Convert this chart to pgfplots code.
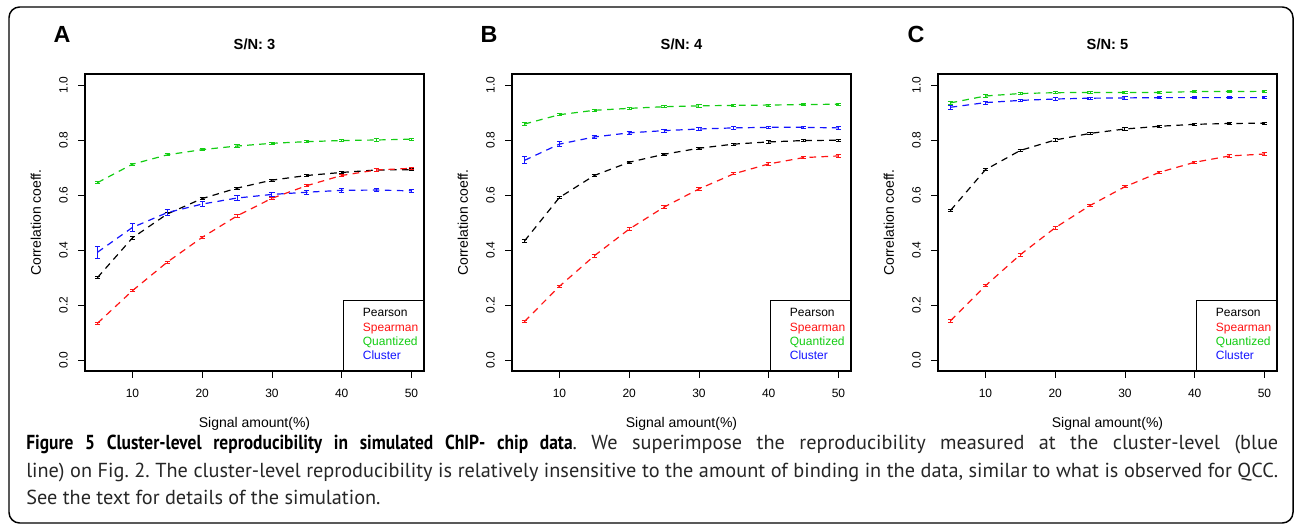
\documentclass[border=0pt]{standalone}
\usepackage{fontspec}
\setmainfont{Liberation Sans}
\newfontfamily\capfont[BoldFeatures={FakeStretch=0.86}]{PT Sans}
\usepackage{pgfplots}
\pgfplotsset{compat=1.18}

\definecolor{rred}{RGB}{255,20,20}
\definecolor{rgreen}{RGB}{20,205,20}
\definecolor{rblue}{RGB}{20,20,255}

\pgfplotsset{
  rpanel/.style={
    scale only axis, width=254.25pt, height=222.75pt,
    anchor=south west,
    xmin=3.2, xmax=51.8, ymin=-0.04, ymax=1.04,
    axis line style={line width=0.9pt},
    tick align=outside, xtick pos=left, ytick pos=left,
    major tick length=5pt, tick style={line width=0.6pt, black},
    xtick={10,20,30,40,50}, xticklabels={10,20,30,40,50},
    ytick={0,0.2,0.4,0.6,0.8,1.0}, yticklabels={0.0,0.2,0.4,0.6,0.8,1.0},
    ticklabel style={font=\fontsize{9}{10}\selectfont},
    yticklabel style={rotate=90, anchor=south},
    xticklabel shift=5pt, yticklabel shift=4.5pt,
    xlabel={Signal amount(\%)}, ylabel={Correlation coeff.},
    label style={font=\fontsize{10.5}{12}\selectfont},
    xlabel style={at={(axis description cs:0.5,-0.1886)}, anchor=base},
    ylabel style={at={(axis description cs:-0.13,0.5)}, anchor=base},
    every axis title/.style={at={(axis description cs:0.5,1.0808)}, anchor=base,
      font=\bfseries\fontsize{11}{12}\selectfont},
    legend style={at={(axis description cs:1,0)}, anchor=south east,
      draw=black, line width=0.6pt, font=\fontsize{9}{10.5}\selectfont,
      inner xsep=2pt, inner ysep=4.5pt, row sep=-1.2pt},
    legend cell align=left,
    legend image code/.code={\path[draw=none] (0pt,0pt) -- (11pt,0pt);},
    every axis plot/.append style={line width=0.9pt, dash pattern=on 5pt off 4pt, mark=none},
    error bars/error bar style={solid, line width=0.7pt},
    error bars/error mark options={rotate=90, mark size=2pt, line width=0.7pt, solid},
  },
  eb/.style={error bars/.cd, y dir=both, y explicit},
}

\begin{document}
\begin{tikzpicture}
\path (0pt,0pt) rectangle (971.25pt,393pt);
\draw[line width=1.1pt, rounded corners=8pt] (6.75pt,0.75pt) rectangle (969.75pt,387.75pt);

% panel A
\begin{axis}[rpanel, at={(63.75pt,114.75pt)}, title={S/N: 3}]
\addplot[black, eb] coordinates {
(5,0.300) +- (0,0.004) (10,0.444) +- (0,0.004) (15,0.531) +- (0,0.005) (20,0.587) +- (0,0.004)
(25,0.625) +- (0,0.004) (30,0.654) +- (0,0.004) (35,0.671) +- (0,0.004) (40,0.682) +- (0,0.004)
(45,0.691) +- (0,0.004) (50,0.692) +- (0,0.004)};
\addplot[rred, eb] coordinates {
(5,0.134) +- (0,0.004) (10,0.252) +- (0,0.004) (15,0.356) +- (0,0.004) (20,0.446) +- (0,0.004)
(25,0.524) +- (0,0.004) (30,0.588) +- (0,0.004) (35,0.634) +- (0,0.004) (40,0.671) +- (0,0.004)
(45,0.691) +- (0,0.004) (50,0.697) +- (0,0.004)};
\addplot[rgreen, eb] coordinates {
(5,0.645) +- (0,0.004) (10,0.712) +- (0,0.004) (15,0.746) +- (0,0.004) (20,0.765) +- (0,0.004)
(25,0.778) +- (0,0.004) (30,0.788) +- (0,0.004) (35,0.794) +- (0,0.004) (40,0.798) +- (0,0.004)
(45,0.800) +- (0,0.004) (50,0.803) +- (0,0.004)};
\addplot[rblue, eb] coordinates {
(5,0.392) +- (0,0.022) (10,0.482) +- (0,0.015) (15,0.536) +- (0,0.010) (20,0.567) +- (0,0.010)
(25,0.589) +- (0,0.009) (30,0.602) +- (0,0.008) (35,0.610) +- (0,0.008) (40,0.617) +- (0,0.006)
(45,0.618) +- (0,0.006) (50,0.615) +- (0,0.006)};
\legend{Pearson, \textcolor{rred}{Spearman}, \textcolor{rgreen}{Quantized}, \textcolor{rblue}{Cluster}}
\end{axis}

% panel B
\begin{axis}[rpanel, at={(384pt,114.75pt)}, title={S/N: 4}]
\addplot[black, eb] coordinates {
(5,0.433) +- (0,0.004) (10,0.591) +- (0,0.004) (15,0.671) +- (0,0.004) (20,0.719) +- (0,0.004)
(25,0.748) +- (0,0.004) (30,0.770) +- (0,0.004) (35,0.785) +- (0,0.004) (40,0.793) +- (0,0.004)
(45,0.798) +- (0,0.004) (50,0.799) +- (0,0.004)};
\addplot[rred, eb] coordinates {
(5,0.140) +- (0,0.005) (10,0.268) +- (0,0.004) (15,0.379) +- (0,0.005) (20,0.476) +- (0,0.005)
(25,0.556) +- (0,0.005) (30,0.622) +- (0,0.004) (35,0.677) +- (0,0.004) (40,0.713) +- (0,0.004)
(45,0.736) +- (0,0.004) (50,0.742) +- (0,0.004)};
\addplot[rgreen, eb] coordinates {
(5,0.858) +- (0,0.004) (10,0.892) +- (0,0.004) (15,0.908) +- (0,0.004) (20,0.915) +- (0,0.004)
(25,0.921) +- (0,0.004) (30,0.924) +- (0,0.004) (35,0.926) +- (0,0.004) (40,0.927) +- (0,0.004)
(45,0.929) +- (0,0.004) (50,0.930) +- (0,0.004)};
\addplot[rblue, eb] coordinates {
(5,0.726) +- (0,0.013) (10,0.785) +- (0,0.008) (15,0.811) +- (0,0.007) (20,0.826) +- (0,0.006)
(25,0.834) +- (0,0.005) (30,0.840) +- (0,0.005) (35,0.844) +- (0,0.005) (40,0.846) +- (0,0.005)
(45,0.846) +- (0,0.005) (50,0.844) +- (0,0.005)};
\legend{Pearson, \textcolor{rred}{Spearman}, \textcolor{rgreen}{Quantized}, \textcolor{rblue}{Cluster}}
\end{axis}

% panel C
\begin{axis}[rpanel, at={(703.5pt,114.75pt)}, title={S/N: 5}]
\addplot[black, eb] coordinates {
(5,0.544) +- (0,0.004) (10,0.692) +- (0,0.004) (15,0.762) +- (0,0.004) (20,0.800) +- (0,0.004)
(25,0.824) +- (0,0.004) (30,0.840) +- (0,0.004) (35,0.850) +- (0,0.004) (40,0.857) +- (0,0.004)
(45,0.860) +- (0,0.004) (50,0.861) +- (0,0.004)};
\addplot[rred, eb] coordinates {
(5,0.143) +- (0,0.005) (10,0.270) +- (0,0.004) (15,0.383) +- (0,0.005) (20,0.481) +- (0,0.005)
(25,0.562) +- (0,0.004) (30,0.630) +- (0,0.004) (35,0.683) +- (0,0.004) (40,0.719) +- (0,0.004)
(45,0.742) +- (0,0.004) (50,0.749) +- (0,0.004)};
\addplot[rgreen, eb] coordinates {
(5,0.935) +- (0,0.004) (10,0.960) +- (0,0.004) (15,0.969) +- (0,0.004) (20,0.972) +- (0,0.004)
(25,0.973) +- (0,0.004) (30,0.973) +- (0,0.004) (35,0.973) +- (0,0.004) (40,0.976) +- (0,0.004)
(45,0.976) +- (0,0.004) (50,0.977) +- (0,0.004)};
\addplot[rblue, eb] coordinates {
(5,0.919) +- (0,0.008) (10,0.936) +- (0,0.005) (15,0.944) +- (0,0.004) (20,0.949) +- (0,0.004)
(25,0.952) +- (0,0.004) (30,0.953) +- (0,0.004) (35,0.954) +- (0,0.004) (40,0.954) +- (0,0.004)
(45,0.954) +- (0,0.004) (50,0.954) +- (0,0.004)};
\legend{Pearson, \textcolor{rred}{Spearman}, \textcolor{rgreen}{Quantized}, \textcolor{rblue}{Cluster}}
\end{axis}

% panel letters
\node[anchor=base, font=\bfseries\fontsize{17.5}{18}\selectfont, inner sep=0pt] at (46.5pt,360.75pt) {A};
\node[anchor=base, font=\bfseries\fontsize{17.5}{18}\selectfont, inner sep=0pt] at (366.75pt,360.75pt) {B};
\node[anchor=base, font=\bfseries\fontsize{17.5}{18}\selectfont, inner sep=0pt] at (687pt,360.75pt) {C};

% caption, one node per line
\begin{scope}[every node/.style={anchor=base west, inner sep=0pt, text=black!85,
    font=\capfont\fontsize{15.2}{18}\selectfont\frenchspacing}]
\node at (19.5pt,55.5pt) {\makebox[939pt][s]{\textcolor{black}{\bfseries Figure 5 Cluster-level reproducibility in simulated ChIP- chip data}. We superimpose the reproducibility measured at the cluster-level (blue}};
\node at (19.5pt,35pt) {\makebox[939pt][s]{line) on Fig. 2. The cluster-level reproducibility is relatively insensitive to the amount of binding in the data, similar to what is observed for QCC.}};
\node at (19.5pt,14.5pt) {See the text for details of the simulation.};
\end{scope}
\end{tikzpicture}
\end{document}
